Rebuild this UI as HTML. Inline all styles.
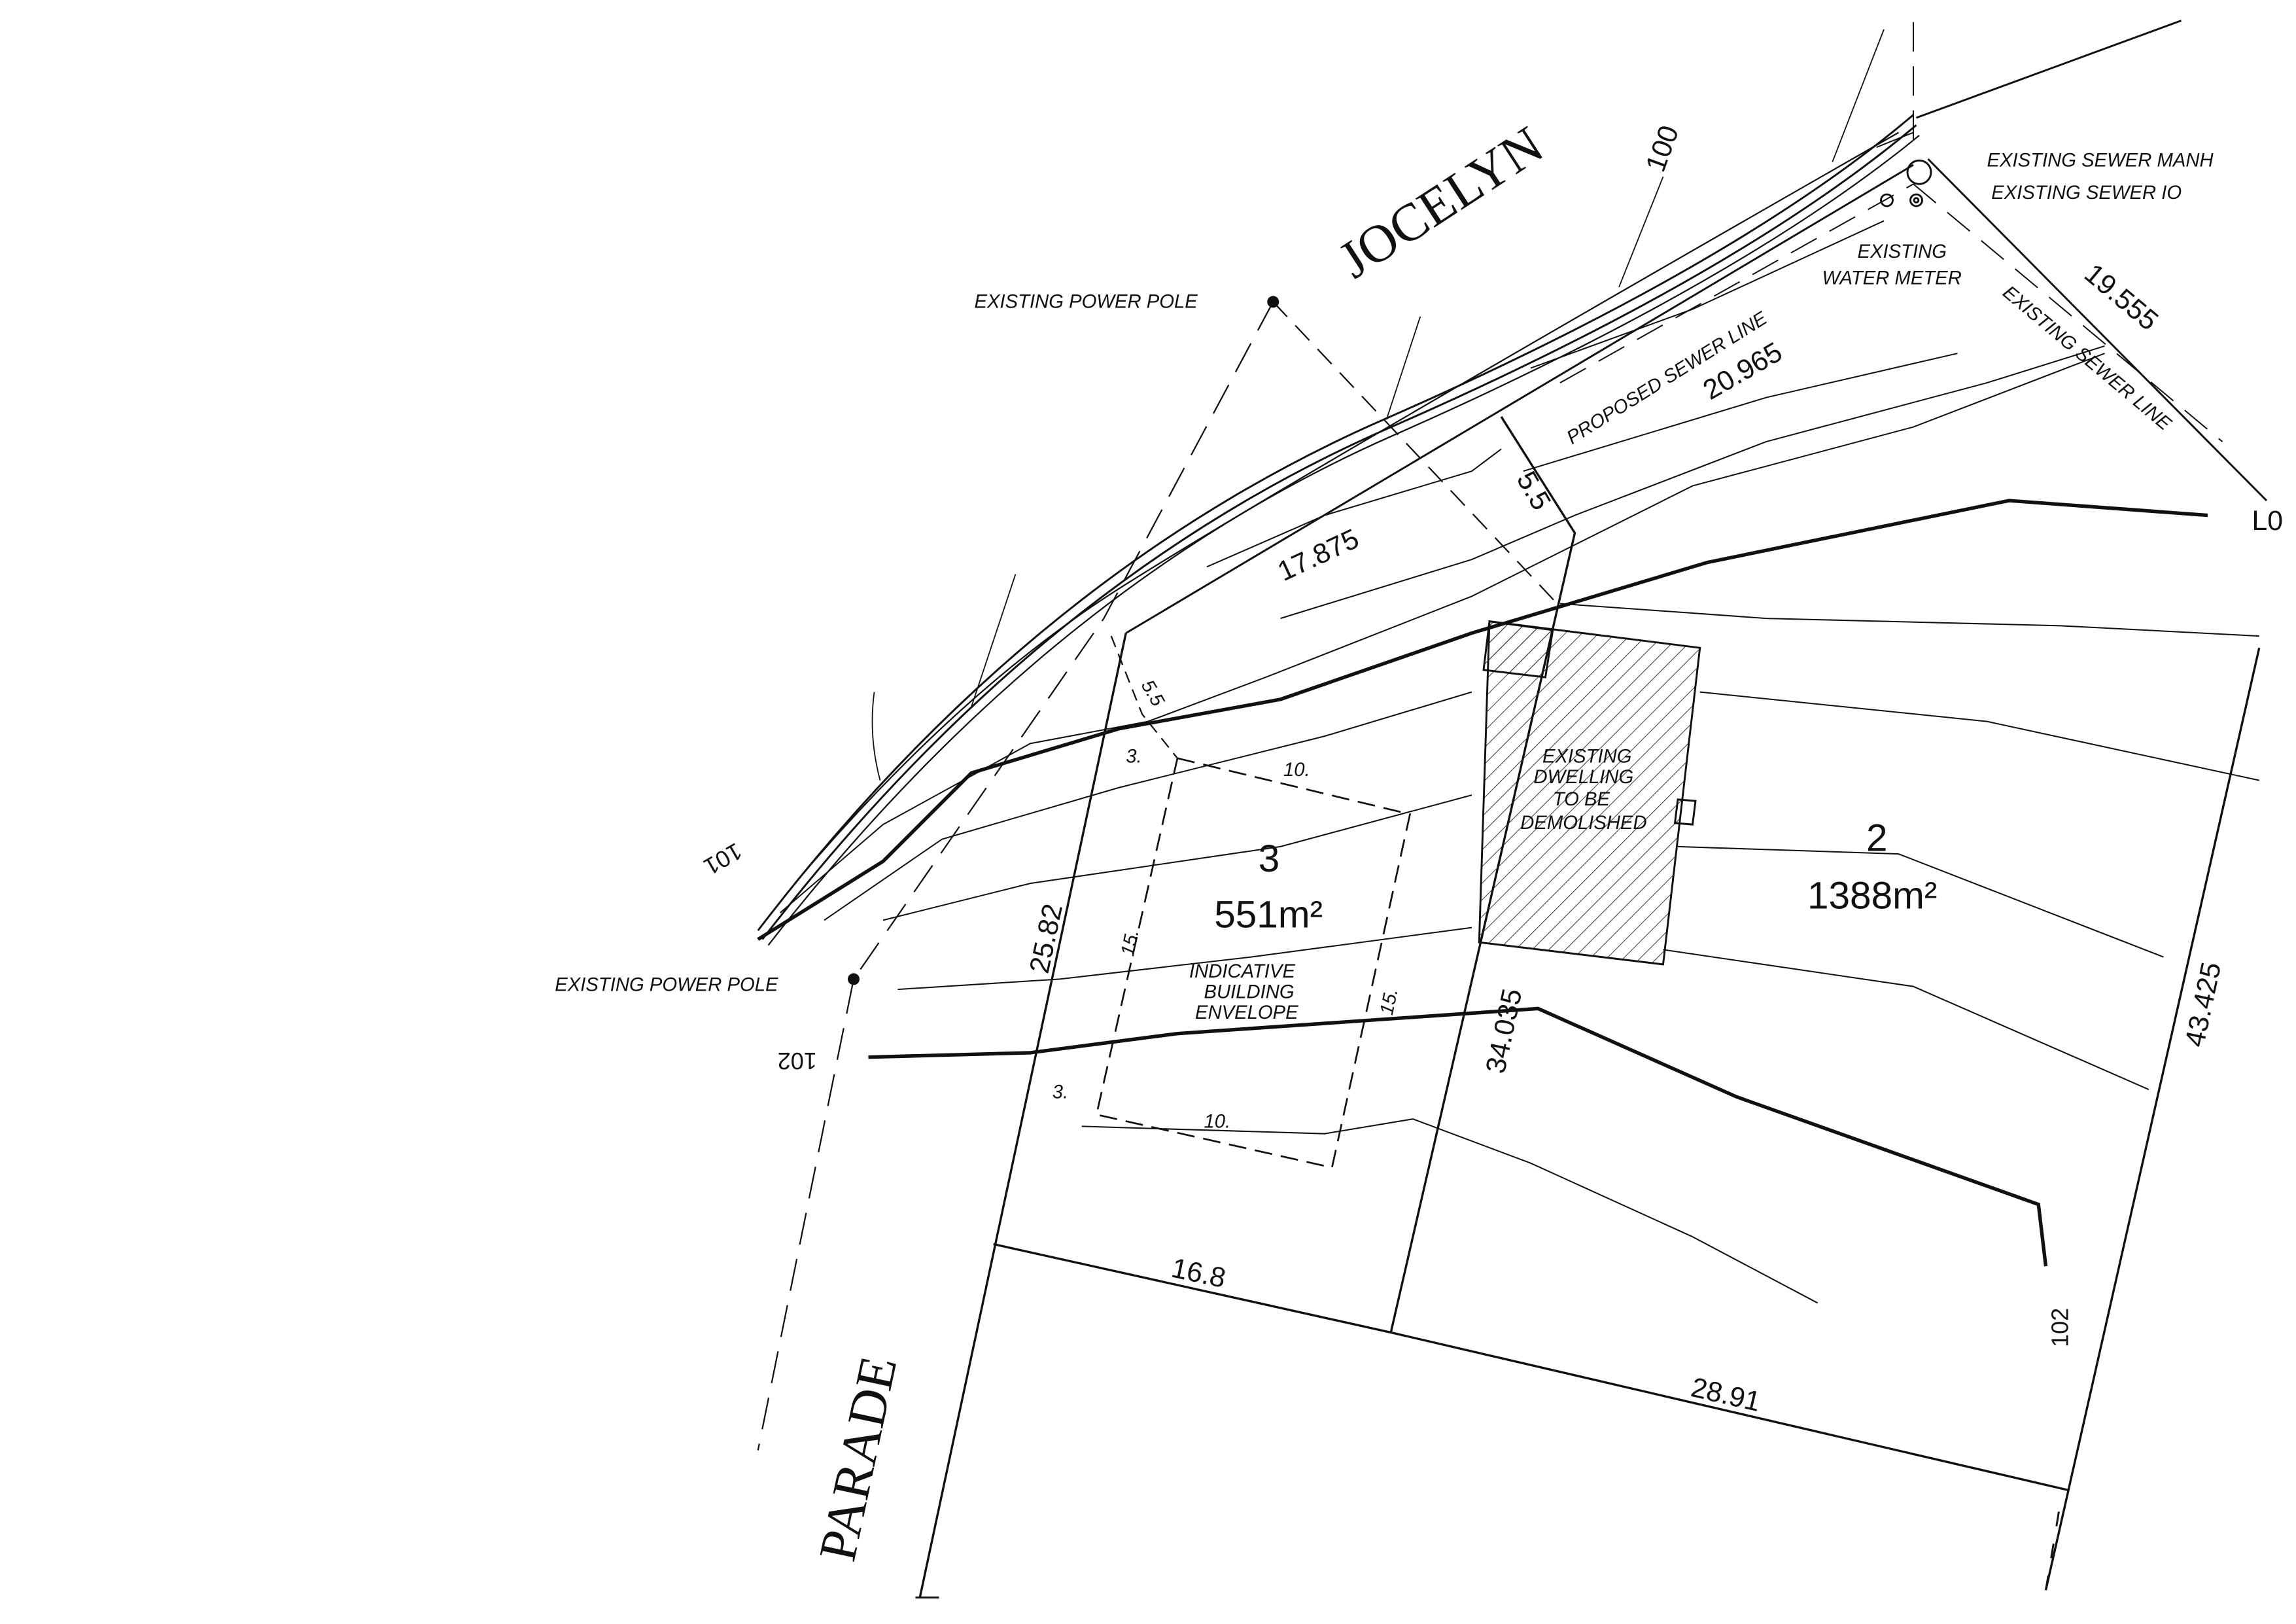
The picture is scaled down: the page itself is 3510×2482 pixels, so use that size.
<!DOCTYPE html>
<html><head><meta charset="utf-8"><style>
html,body{margin:0;padding:0;background:#fff;width:3510px;height:2482px;overflow:hidden}
svg{display:block}
text{font-family:"Liberation Sans",sans-serif;fill:#111}
.s{font-style:italic;font-size:13px}
.d{font-size:19px}
.big{font-family:"Liberation Serif",serif;font-size:36px}
</style></head><body>
<svg width="3510" height="2482" viewBox="0 0 1560 1103" preserveAspectRatio="none" xmlns="http://www.w3.org/2000/svg">
<defs><pattern id="h" width="8" height="8" patternUnits="userSpaceOnUse" patternTransform="rotate(45)"><line x1="0" y1="0" x2="0" y2="8" stroke="#222" stroke-width="0.8"/></pattern></defs>
<g fill="none" stroke="#111" stroke-width="1.3">
<!-- road boundary curves -->
<path d="M515,632 Q700,390 940,285 T1300,78"/>
<path d="M518,638 Q705,395 943,291 T1302,85"/>
<path d="M522,642 Q710,400 946,296 T1304,92" stroke-width="1"/>
<path d="M540,600 Q650,470 760,400 T1290,90" stroke-width="1"/>
<path d="M1302,80 L1482,14"/>
<path d="M1245,110 L1280,20" stroke-width="0.8"/>
<path d="M1100,195 L1130,120" stroke-width="0.8"/>
<path d="M942,285 L965,215" stroke-width="0.8"/>
<path d="M660,480 L690,390" stroke-width="0.8"/>
<path d="M598,530 Q590,500 594,470" stroke-width="0.8"/>
<!-- right top boundary -->
<path d="M1310,108 L1540,340"/>
<!-- lot boundaries -->
<path d="M765,430 L1300,112"/>
<path d="M765,430 L625,1085" stroke-width="1.5"/>
<path d="M1020,283 L1070,362 L945,905" stroke-width="1.5"/>
<path d="M1535,440 L1390,1080" stroke-width="1.5"/>
<path d="M675,845 L945,905 L1405,1012" stroke-width="1.5"/>
<path d="M622,1085 L638,1085" />
<path d="M1390,1080 L1400,1020" stroke-dasharray="10,12"/>
<!-- thick contours -->
<path d="M515,638 L600,585 L660,525 L760,495 L870,475 L1000,430 L1160,382 L1365,340 L1500,350" stroke-width="2.4"/>
<path d="M590,718 L700,715 L800,702 L1045,685 L1180,745 L1385,818 L1390,860" stroke-width="2.4"/>
<!-- thin contours -->
<path d="M530,620 L600,560 L700,505 L780,490 L860,460 L1000,405 L1150,330 L1300,290 L1430,240" stroke-width="0.9"/>
<path d="M560,625 L640,570 L760,535 L900,500 L1000,470" stroke-width="0.9"/>
<path d="M600,625 L700,600 L870,575 L1000,540" stroke-width="0.9"/>
<path d="M610,672 L720,665 L850,650 L1000,630" stroke-width="0.9"/>
<path d="M735,765 L900,770 L960,760 L1040,790 L1150,840 L1235,885" stroke-width="0.9"/>
<path d="M820,385 L900,350 L1000,320 L1020,305" stroke-width="0.9"/>
<path d="M870,420 L1000,380 L1070,350 L1200,300 L1350,260 L1430,235" stroke-width="0.9"/>
<path d="M1035,320 L1200,270 L1330,240" stroke-width="0.9"/>
<path d="M1060,410 L1200,420 L1400,425 L1535,432" stroke-width="0.9"/>
<path d="M1155,470 L1350,490 L1535,530" stroke-width="0.9"/>
<path d="M1140,575 L1290,580 L1470,650" stroke-width="0.9"/>
<path d="M1130,645 L1300,670 L1460,740" stroke-width="0.9"/>
<path d="M1040,250 L1150,210 L1280,150" stroke-width="0.9"/>
<path d="M1275,100 L1300,90" stroke-width="0.9"/>
<!-- sewer/power dashed -->
<path d="M865,205 L1058,410" stroke-dasharray="14,8" stroke-width="1"/>
<path d="M865,205 L750,420 L580,665 L515,985" stroke-dasharray="22,10" stroke-width="1"/>
<path d="M1060,260 L1300,125" stroke-dasharray="20,10" stroke-width="0.9"/>
<path d="M1300,125 L1510,300" stroke-dasharray="20,10" stroke-width="0.9"/>
<path d="M1300,15 L1300,100" stroke-dasharray="20,10" stroke-width="0.9"/>
<!-- setback dashed lines -->
<path d="M755,432 L776,485 L800,515" stroke-dasharray="8,5" stroke-width="1"/>
<path d="M800,515 L958,553 L905,793 L745,757 Z" stroke-dasharray="12,6" stroke-width="1.2"/>
<!-- dwelling -->
<path d="M1012,422 L1155,440 L1130,655 L1005,640 Z" fill="url(#h)" stroke-width="1.3"/>
<path d="M1012,422 L1055,428 L1050,460 L1008,455 Z" fill="url(#h)"/>
<path d="M1140,543 L1152,544 L1150,560 L1138,559Z"/>
<circle cx="1304" cy="117" r="8"/>
<circle cx="1302" cy="136" r="4"/><circle cx="1302" cy="136" r="1.5"/>
<circle cx="1282" cy="136" r="4"/>
</g>
<circle cx="865" cy="205" r="4" fill="#111"/>
<circle cx="580" cy="665" r="4" fill="#111"/>
<!-- labels -->
<text class="big" transform="translate(920,190) rotate(-33)">JOCELYN</text>
<text class="big" transform="translate(580,1062) rotate(-78)">PARADE</text>
<text class="s" x="662" y="209">EXISTING POWER POLE</text>
<text class="s" x="377" y="673">EXISTING POWER POLE</text>
<text class="s" x="1350" y="113">EXISTING SEWER MANH</text>
<text class="s" x="1353" y="135">EXISTING SEWER IO</text>
<text class="s" x="1262" y="175">EXISTING</text>
<text class="s" x="1238" y="193">WATER METER</text>
<text class="s" transform="translate(1068,302) rotate(-32)">PROPOSED SEWER LINE</text>
<text class="s" transform="translate(1360,200) rotate(40)">EXISTING SEWER LINE</text>
<text class="d" transform="translate(1162,272) rotate(-30)">20.965</text>
<text class="d" transform="translate(1415,188) rotate(40)">19.555</text>
<text class="d" transform="translate(872,395) rotate(-25)">17.875</text>
<text class="d" transform="translate(1030,325) rotate(60)">5.5</text>
<text class="d" transform="translate(712,662) rotate(-78)">25.82</text>
<text class="d" transform="translate(1022,730) rotate(-78)">34.035</text>
<text class="d" transform="translate(1497,712) rotate(-78)">43.425</text>
<text class="d" transform="translate(795,867) rotate(12)">16.8</text>
<text class="d" transform="translate(1148,948) rotate(13)">28.91</text>
<text class="d" transform="translate(1530,360)">L0</text>
<text class="d" transform="translate(1130,118) rotate(-70)">100</text>
<text class="d" transform="translate(500,572) rotate(150)" style="font-size:16px">101</text>
<text class="d" transform="translate(555,715) rotate(180)" style="font-size:16px">102</text>
<text class="d" transform="translate(1405,915) rotate(-90)" style="font-size:16px">102</text>
<text style="font-size:26px" x="855" y="592">3</text>
<text style="font-size:26px" x="825" y="630">551m²</text>
<text style="font-size:26px" x="1268" y="578">2</text>
<text style="font-size:26px" x="1228" y="617">1388m²</text>
<text class="s" x="808" y="664">INDICATIVE</text>
<text class="s" x="818" y="678">BUILDING</text>
<text class="s" x="812" y="692">ENVELOPE</text>
<text class="s" x="1048" y="518">EXISTING</text>
<text class="s" x="1042" y="532">DWELLING</text>
<text class="s" x="1055" y="547">TO BE</text>
<text class="s" x="1033" y="563">DEMOLISHED</text>
<text class="s" x="765" y="518">3.</text>
<text class="s" x="872" y="527">10.</text>
<text class="s" x="715" y="746">3.</text>
<text class="s" x="818" y="766">10.</text>
<text class="s" transform="translate(770,650) rotate(-78)">15.</text>
<text class="s" transform="translate(946,690) rotate(-78)">15.</text>
<text class="s" transform="translate(775,465) rotate(60)">5.5</text>
</svg>
</body></html>
